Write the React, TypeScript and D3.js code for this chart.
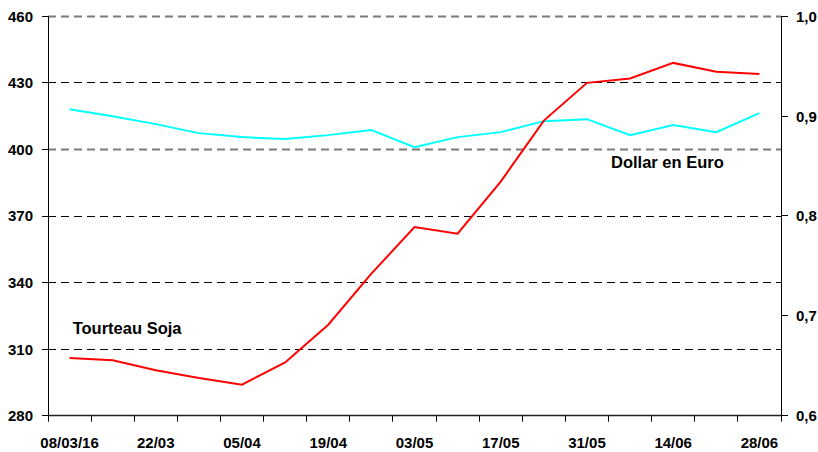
import React from 'react';
import * as d3 from 'd3';

const dates = [
  '08/03/16', '15/03', '22/03', '29/03', '05/04', '12/04', '19/04', '26/04', '03/05',
  '10/05', '17/05', '24/05', '31/05', '07/06', '14/06', '21/06', '28/06',
];

// Tourteau Soja (left axis)
const soja = [306, 305, 300.5, 297, 294, 304, 321, 344, 365, 362, 385.5, 413, 430, 432, 439, 435, 434];

// Dollar en Euro (right axis)
const usdEur = [0.907, 0.9, 0.892, 0.883, 0.879, 0.877, 0.881, 0.886, 0.869, 0.879, 0.884, 0.895, 0.897, 0.881, 0.891, 0.884, 0.903];

const leftTicks = [280, 310, 340, 370, 400, 430, 460];
const rightTicks = [0.6, 0.7, 0.8, 0.9, 1.0];

const W = 818;
const H = 452;
const font = '"Liberation Sans", Arial, sans-serif';

// snap to pixel centre for crisp 1px lines
const px = (v: number) => Math.round(v - 0.5) + 0.5;

const App = () => {
  const left = 48;
  const right = 781;
  const top = 16.3;
  const bottom = 415.7;

  const x = d3.scaleBand().domain(dates).range([left, right]).padding(0);
  const yL = d3.scaleLinear().domain([280, 460]).range([bottom, top]);
  const yR = d3.scaleLinear().domain([0.6, 1.0]).range([bottom, top]);
  const cx = (d: string) => (x(d) as number) + x.bandwidth() / 2;

  const sojaLine = d3.line<number>().x((_, i) => cx(dates[i])).y(d => yL(d));
  const usdLine = d3.line<number>().x((_, i) => cx(dates[i])).y(d => yR(d));

  const bounds = d3.range(dates.length + 1).map(i => left + i * x.bandwidth());

  return (
    <svg width={W} height={H} style={{ position: 'absolute', left: 0, top: 0, background: '#fff' }}>
      {/* gridlines */}
      {leftTicks.filter(t => t > 280).map(t => {
        const gray = t === 460 || t === 400;
        return (
          <line key={t} x1={left} x2={right} y1={px(yL(t))} y2={px(yL(t))}
            stroke={gray ? '#7a7a7a' : '#000'} strokeWidth={gray ? 2 : 1}
            strokeDasharray="8,5" />
        );
      })}

      {/* left axis */}
      <line x1={px(left)} x2={px(left)} y1={top} y2={bottom} stroke="#000" strokeWidth={1} />
      {leftTicks.map(t => (
        <g key={t}>
          <line x1={left - 6} x2={left} y1={px(yL(t))} y2={px(yL(t))} stroke="#000" />
          <text x={33} y={yL(t)} dy="0.36em" textAnchor="end" fontFamily={font}
            fontWeight="bold" fontSize={15} fill="#000">{t}</text>
        </g>
      ))}

      {/* right axis */}
      <line x1={px(right)} x2={px(right)} y1={top} y2={bottom} stroke="#000" strokeWidth={1} />
      {rightTicks.map(t => (
        <g key={t}>
          <line x1={right} x2={right + 7} y1={px(yR(t))} y2={px(yR(t))} stroke="#000" />
          <text x={796} y={yR(t)} dy="0.36em" textAnchor="start" fontFamily={font}
            fontWeight="bold" fontSize={15} fill="#000">{t.toFixed(1).replace('.', ',')}</text>
        </g>
      ))}

      {/* bottom axis */}
      <line x1={left} x2={right} y1={px(bottom)} y2={px(bottom)} stroke="#222" strokeWidth={1.5} />
      {bounds.map((b, i) => (
        <line key={i} x1={px(b)} x2={px(b)} y1={bottom} y2={bottom + 6} stroke="#000" />
      ))}
      {dates.map((d, i) => i % 2 === 0 ? (
        <text key={d} x={cx(d)} y={448} textAnchor="middle" fontFamily={font}
          fontWeight="bold" fontSize={15} fill="#000">{d}</text>
      ) : null)}

      {/* series */}
      <path d={usdLine(usdEur) || ''} fill="none" stroke="#00ffff" strokeWidth={2} />
      <path d={sojaLine(soja) || ''} fill="none" stroke="#ff0000" strokeWidth={2} />

      {/* labels */}
      <text x={72.7} y={334.3} fontFamily={font} fontWeight="bold" fontSize={16.5} fill="#000">Tourteau Soja</text>
      <text x={611} y={168.3} fontFamily={font} fontWeight="bold" fontSize={16.5} fill="#000">Dollar en Euro</text>
    </svg>
  );
};

export default App;
